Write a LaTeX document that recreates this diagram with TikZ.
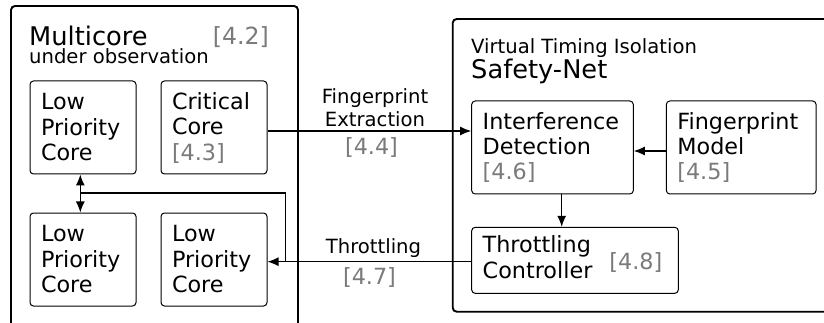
\documentclass[tikz,border=0pt]{standalone}
\usepackage{fontspec}
\setmainfont{DejaVu Sans}
\usetikzlibrary{arrows.meta}
\newcommand\ftitle{\fontsize{25.7}{30}\selectfont}
\newcommand\finner{\fontsize{22.3}{25.5}\selectfont}
\newcommand\fsmall{\fontsize{19.6}{22.5}\selectfont}
\definecolor{reflabel}{HTML}{7A7A7A}
\tikzset{
  outerbox/.style={draw=black, line width=1.9pt, rounded corners=4pt},
  corebox/.style={draw=black, line width=1pt, rounded corners=3.5pt,
    minimum width=106pt, minimum height=93pt, inner xsep=11pt, inner ysep=0pt,
    text width=84pt, align=left, font=\finner},
  plain/.style={inner sep=0pt},
  arr/.style={line width=1.2pt, -{Latex[length=11pt,width=9pt]}},
  arrtwo/.style={line width=1.2pt, {Latex[length=11pt,width=9pt]}-{Latex[length=11pt,width=9pt]}},
  link/.style={line width=1.2pt},
  ref/.style={text=reflabel}
}
\begin{document}
\begin{tikzpicture}[x=1pt,y=-1pt]
\useasboundingbox (0,0) rectangle (824,323);
\clip (0,0) rectangle (824,323);
% outer boxes
\draw[outerbox] (11,6) rectangle (298,345);
\draw[outerbox] (452.7,19) rectangle (850,311.7);
% titles
\node[plain, anchor=north west, align=left, font=\ftitle] (mc) at (29,25.5)
  {Multicore\\[-12pt]{\fsmall under observation}};
\node[plain, anchor=base east, font=\fontsize{23.6}{28}\selectfont, ref] (mcref) at (269,45) {[4.2]};
\node[plain, anchor=base west, font=\fsmall] (vti) at (471,53.3) {Virtual Timing Isolation};
\node[plain, anchor=base west, font=\ftitle] (sn) at (471,79) {Safety-Net};
% cores
\node[corebox] (lp1) at (83,127.5) {Low\\Priority\\Core};
\node[corebox] (crit) at (214,127.5) {Critical\\Core\\{\color{reflabel}[4.3]}};
\node[corebox] (lp2) at (83,259.5) {Low\\Priority\\Core};
\node[corebox] (lp3) at (214,259.5) {Low\\Priority\\Core};
% safety net
\node[corebox, minimum width=161.6pt, text width=139.6pt] (det) at (552.5,147.5) {Interference\\Detection\\{\color{reflabel}[4.6]}};
\node[corebox, minimum width=149.7pt, text width=127.7pt] (fpm) at (741.2,147.5) {Fingerprint\\Model\\{\color{reflabel}[4.5]}};
\node[corebox, minimum width=206.6pt, minimum height=66pt, text width=184.6pt] (thr) at (575,260.3)
  {\begin{tabular}{@{}l@{}}Throttling\\Controller\end{tabular}\hspace{17pt}\raisebox{-4pt}{\color{reflabel}[4.8]}};
% connectors
\draw[arr] ([yshift=-3.5pt]crit.east) -- ([yshift=-3.5pt]crit.east -| det.west);
\draw[arr] ([yshift=-3.5pt]fpm.west) -- ([yshift=-3.5pt]fpm.west -| det.east);
\draw[arr] ([xshift=9.2pt]det.south) -- ([xshift=9.2pt]det.south |- thr.north);
\draw[arr] ([yshift=-1.4pt]thr.west) -- ([yshift=-1.4pt]thr.west -| lp3.east);
\draw[arrtwo] ([xshift=-2.7pt]lp1.south) -- ([xshift=-2.7pt]lp2.north);
\coordinate (j1) at (285.7,261.7);
\coordinate (j3) at (80.3,193);
\draw[link] (j1) |- (j3);
% edge labels
\node[plain, anchor=south, align=center, font=\fsmall] (fe) at (375,126.7) {Fingerprint\\Extraction};
\node[plain, anchor=base, font=\finner, ref] (fer) at (371.5,155) {[4.4]};
\node[plain, anchor=base, font=\fsmall] (tl) at (373.5,253.4) {Throttling};
\node[plain, anchor=base, font=\finner, ref] (tlr) at (369.5,284.8) {[4.7]};
\end{tikzpicture}
\end{document}
